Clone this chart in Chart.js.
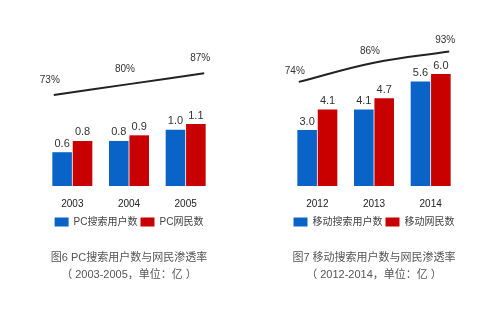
<!DOCTYPE html>
<html>
<head>
<meta charset="utf-8">
<script src="https://cdn.jsdelivr.net/npm/chart.js@4/dist/chart.umd.min.js"></script>
<style>
  html, body { margin: 0; padding: 0; background: #fff; }
  .wrap { position: relative; width: 500px; height: 333px; }
  .panel { position: absolute; top: 0; width: 250px; height: 333px; }
  .panel canvas { position: absolute; left: 0; top: 0; }
  .panel canvas.over { pointer-events: none; }
</style>
</head>
<body>
<div class="wrap">
  <div class="panel" style="left:0">
    <canvas id="pcBars" width="250" height="333"></canvas>
    <canvas id="pcRate" class="over" width="250" height="333"></canvas>
  </div>
  <div class="panel" style="left:250px">
    <canvas id="mobileBars" width="250" height="333"></canvas>
    <canvas id="mobileRate" class="over" width="250" height="333"></canvas>
  </div>
</div>
<script>
// PC search (2003-2005), unit: 亿
const pcYears = [2003, 2004, 2005];
const pcSearchUsers = [0.6, 0.8, 1.0];
const pcNetizens = [0.8, 0.9, 1.1];
const pcPenetration = [73, 80, 87];

// mobile search (2012-2014), unit: 亿
const mobileYears = [2012, 2013, 2014];
const mobileSearchUsers = [3.0, 4.1, 5.6];
const mobileNetizens = [4.1, 4.7, 6.0];
const mobilePenetration = [74, 86, 93];

const BLUE = '#0a64c8';
const RED = '#c80000';
const FONT = '"Liberation Sans", "Noto Sans CJK SC", sans-serif';
const AREA_TOP = 30;
const AREA_BOTTOM_PAD = 147; // canvas height minus plot bottom

// numbers above the bars / above the rate line
const valueLabels = {
  id: 'valueLabels',
  afterDatasetsDraw(chart, args, opts) {
    const ctx = chart.ctx;
    ctx.save();
    ctx.fillStyle = '#333';
    ctx.textAlign = 'center';
    chart.data.datasets.forEach((ds, i) => {
      chart.getDatasetMeta(i).data.forEach((el, j) => {
        const v = ds.data[j];
        if (opts.percent) {
          ctx.font = '10px ' + FONT;
          ctx.textBaseline = 'middle';
          ctx.fillText(v.y + '%', el.x - 4, el.y - opts.dy);
        } else {
          ctx.font = '11px ' + FONT;
          ctx.textBaseline = 'bottom';
          ctx.fillText(v.toFixed(1), el.x, el.y - 3);
        }
      });
    });
    ctx.restore();
  }
};

function makeBars(id, years, search, net, names, caption, sub, yMax, pad) {
  return new Chart(document.getElementById(id), {
    type: 'bar',
    data: {
      labels: years.map(String),
      datasets: [
        { label: names[0], data: search, backgroundColor: BLUE },
        { label: names[1], data: net, backgroundColor: RED }
      ]
    },
    options: {
      responsive: false,
      animation: false,
      categoryPercentage: 0.72,
      barPercentage: 0.96,
      layout: { padding: { top: AREA_TOP, left: pad[0], right: pad[1], bottom: 51.6 } },
      scales: {
        x: {
          grid: { display: false, drawTicks: false },
          border: { display: false },
          ticks: { color: '#222', padding: 12, font: { family: FONT, size: 10 } },
          afterFit: s => { s.height = 28; }
        },
        y: { display: false, min: 0, max: yMax }
      },
      plugins: {
        legend: {
          position: 'bottom',
          labels: {
            boxWidth: 14,
            boxHeight: 9,
            padding: 3,
            color: '#444',
            font: { family: FONT, size: 10 }
          }
        },
        title: {
          display: true,
          position: 'bottom',
          text: caption,
          color: '#555',
          padding: { top: 14, bottom: 2 },
          font: { family: FONT, size: 11, weight: 'normal' }
        },
        subtitle: {
          display: true,
          position: 'bottom',
          weight: 2500,
          text: sub,
          color: '#555',
          padding: { top: 2, bottom: 0 },
          font: { family: FONT, size: 11 }
        },
        tooltip: { enabled: false },
        valueLabels: { percent: false }
      }
    },
    plugins: [valueLabels]
  });
}

// penetration line, drawn on a transparent chart laid over the bars
function makeRate(id, years, rate, rateMin, rateMax, pad, dy) {
  const mid = years[1];
  return new Chart(document.getElementById(id), {
    type: 'line',
    data: {
      datasets: [{
        label: '渗透率',
        data: years.map((y, i) => ({ x: y, y: rate[i] })),
        borderColor: '#222',
        borderWidth: 2,
        pointRadius: 0,
        tension: 0.4,
        fill: false
      }]
    },
    options: {
      responsive: false,
      animation: false,
      layout: { padding: { top: AREA_TOP, left: pad[0], right: pad[1], bottom: AREA_BOTTOM_PAD } },
      scales: {
        x: { type: 'linear', display: false, min: mid - 1.13, max: mid + 1.13 },
        y: { type: 'linear', display: false, min: rateMin, max: rateMax }
      },
      plugins: {
        legend: { display: false },
        tooltip: { enabled: false },
        valueLabels: { percent: true, dy: dy }
      }
    },
    plugins: [valueLabels]
  });
}

makeBars('pcBars', pcYears, pcSearchUsers, pcNetizens,
  ['PC搜索用户数', 'PC网民数'],
  '图6 PC搜索用户数与网民渗透率', '（ 2003-2005，单位：亿 ）',
  2.77, [44, 36]);
makeRate('pcRate', pcYears, pcPenetration, 14.3, 114.9, [44, 36], 15);

makeBars('mobileBars', mobileYears, mobileSearchUsers, mobileNetizens,
  ['移动搜索用户数', '移动网民数'],
  '图7 移动搜索用户数与网民渗透率', '（ 2012-2014，单位：亿 ）',
  8.36, [39, 41]);
makeRate('mobileRate', mobileYears, mobilePenetration, 9, 106.4, [39, 41], 11);
</script>
</body>
</html>
